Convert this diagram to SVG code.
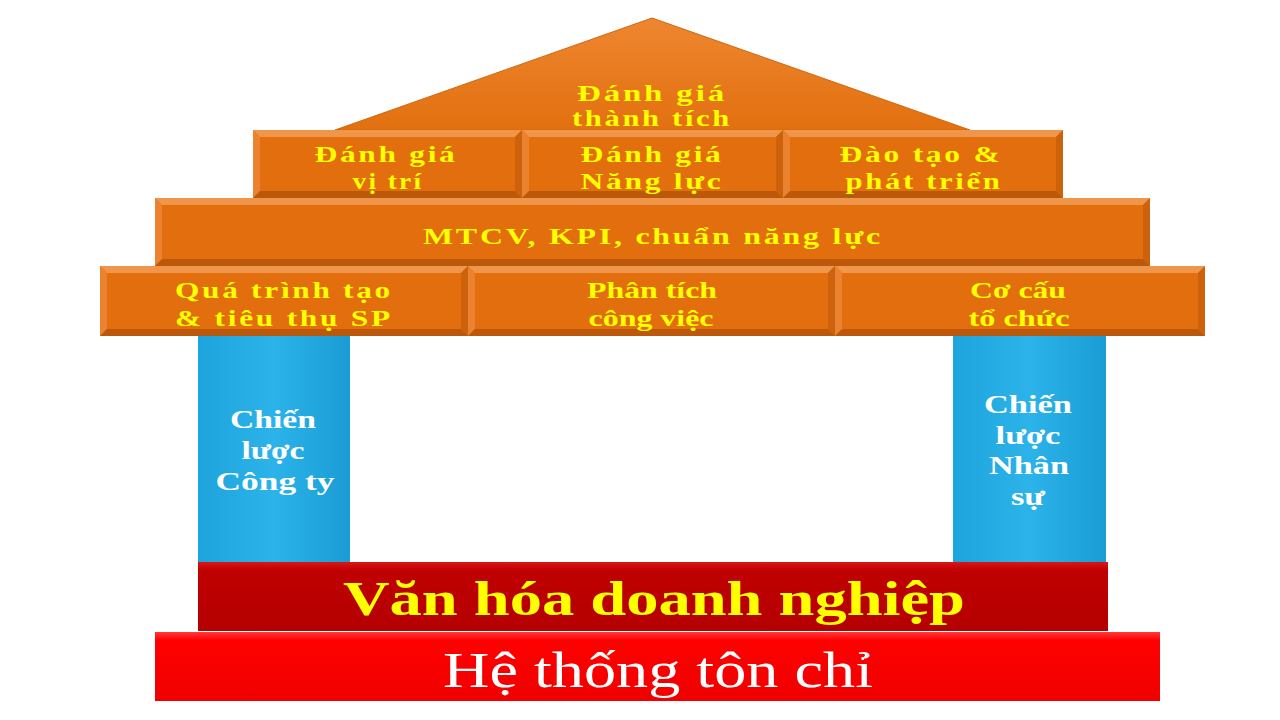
<svg xmlns="http://www.w3.org/2000/svg" width="1280" height="720" viewBox="0 0 1280 720">
<defs>
<linearGradient id="tg" x1="0" y1="0" x2="0" y2="1">
<stop offset="0" stop-color="#EE8630"/><stop offset="1" stop-color="#E2700F"/>
</linearGradient>
<linearGradient id="bg" x1="0" y1="0" x2="1" y2="0">
<stop offset="0" stop-color="#1EA4DC"/><stop offset="0.5" stop-color="#2BB3EA"/><stop offset="1" stop-color="#1A9CD4"/>
</linearGradient>
<linearGradient id="dr" x1="0" y1="0" x2="0" y2="1">
<stop offset="0" stop-color="#D81818"/><stop offset="0.12" stop-color="#C00000"/><stop offset="1" stop-color="#B40000"/>
</linearGradient>
<linearGradient id="rr" x1="0" y1="0" x2="0" y2="1">
<stop offset="0" stop-color="#FF3A3A"/><stop offset="0.12" stop-color="#FF0000"/><stop offset="1" stop-color="#F00000"/>
</linearGradient>
</defs>
<style>
.ob{fill:#E36E0E}
.bt{fill:#F0964A}
.bl{fill:#EA8230}
.br{fill:#CC620C}
.bb{fill:#BC580A}
.yt{font-family:"Liberation Serif",serif;font-weight:bold;font-size:23px;fill:#FFFF00;text-anchor:middle;letter-spacing:2px}
.wt{font-family:"Liberation Serif",serif;font-weight:bold;font-size:25px;fill:#FFFFFF;text-anchor:middle}
.pil{fill:url(#bg)}
</style>
<rect width="1280" height="720" fill="#FFFFFF"/>

<g id="roof">
<polygon points="652,18 970,130 335,130" fill="url(#tg)" stroke="#D0660C" stroke-width="1"/>
<text class="yt" x="652" y="101" textLength="150" lengthAdjust="spacingAndGlyphs">Đánh giá</text>
<text class="yt" x="652" y="126" textLength="160" lengthAdjust="spacingAndGlyphs">thành tích</text>
</g>

<g id="danh-gia-vi-tri">
<rect class="ob" x="253" y="130" width="269" height="68"/>
<polygon class="bt" points="253,130 522,130 515,137 260,137"/>
<polygon class="bl" points="253,130 260,137 260,191 253,198"/>
<polygon class="br" points="522,130 522,198 515,191 515,137"/>
<polygon class="bb" points="253,198 522,198 515,191 260,191"/>
<text class="yt" x="386" y="162" textLength="143" lengthAdjust="spacingAndGlyphs">Đánh giá</text>
<text class="yt" x="388" y="189" textLength="71" lengthAdjust="spacingAndGlyphs">vị trí</text>
</g>
<g id="danh-gia-nang-luc">
<rect class="ob" x="522" y="130" width="261" height="68"/>
<polygon class="bt" points="522,130 783,130 776,137 529,137"/>
<polygon class="bl" points="522,130 529,137 529,191 522,198"/>
<polygon class="br" points="783,130 783,198 776,191 776,137"/>
<polygon class="bb" points="522,198 783,198 776,191 529,191"/>
<text class="yt" x="652" y="162" textLength="143" lengthAdjust="spacingAndGlyphs">Đánh giá</text>
<text class="yt" x="652" y="189" textLength="143" lengthAdjust="spacingAndGlyphs">Năng lực</text>
</g>
<g id="dao-tao">
<rect class="ob" x="783" y="130" width="280" height="68"/>
<polygon class="bt" points="783,130 1063,130 1056,137 790,137"/>
<polygon class="bl" points="783,130 790,137 790,191 783,198"/>
<polygon class="br" points="1063,130 1063,198 1056,191 1056,137"/>
<polygon class="bb" points="783,198 1063,198 1056,191 790,191"/>
<text class="yt" x="921" y="162" textLength="163" lengthAdjust="spacingAndGlyphs">Đào tạo &amp;</text>
<text class="yt" x="924" y="189" textLength="157" lengthAdjust="spacingAndGlyphs">phát triển</text>
</g>

<g id="mtcv">
<rect class="ob" x="155" y="198" width="995" height="68"/>
<polygon class="bt" points="155,198 1150,198 1143,205 162,205"/>
<polygon class="bl" points="155,198 162,205 162,259 155,266"/>
<polygon class="br" points="1150,198 1150,266 1143,259 1143,205"/>
<polygon class="bb" points="155,266 1150,266 1143,259 162,259"/>
<text class="yt" x="653" y="244" textLength="460" lengthAdjust="spacingAndGlyphs">MTCV, KPI, chuẩn năng lực</text>
</g>

<g id="qua-trinh">
<rect class="ob" x="100" y="266" width="368" height="70"/>
<polygon class="bt" points="100,266 468,266 461,273 107,273"/>
<polygon class="bl" points="100,266 107,273 107,329 100,336"/>
<polygon class="br" points="468,266 468,336 461,329 461,273"/>
<polygon class="bb" points="100,336 468,336 461,329 107,329"/>
<text class="yt" x="284" y="298" textLength="218" lengthAdjust="spacingAndGlyphs">Quá trình tạo</text>
<text class="yt" x="284" y="326" textLength="218" lengthAdjust="spacingAndGlyphs">&amp; tiêu thụ SP</text>
</g>
<g id="phan-tich">
<rect class="ob" x="468" y="266" width="367" height="70"/>
<polygon class="bt" points="468,266 835,266 828,273 475,273"/>
<polygon class="bl" points="468,266 475,273 475,329 468,336"/>
<polygon class="br" points="835,266 835,336 828,329 828,273"/>
<polygon class="bb" points="468,336 835,336 828,329 475,329"/>
<text class="yt" x="652" y="298" textLength="130" lengthAdjust="spacingAndGlyphs" style="letter-spacing:0">Phân tích</text>
<text class="yt" x="651" y="326" textLength="125" lengthAdjust="spacingAndGlyphs" style="letter-spacing:0">công việc</text>
</g>
<g id="co-cau">
<rect class="ob" x="835" y="266" width="370" height="70"/>
<polygon class="bt" points="835,266 1205,266 1198,273 842,273"/>
<polygon class="bl" points="835,266 842,273 842,329 835,336"/>
<polygon class="br" points="1205,266 1205,336 1198,329 1198,273"/>
<polygon class="bb" points="835,336 1205,336 1198,329 842,329"/>
<text class="yt" x="1018" y="298" textLength="96" lengthAdjust="spacingAndGlyphs" style="letter-spacing:0">Cơ cấu</text>
<text class="yt" x="1019" y="326" textLength="101" lengthAdjust="spacingAndGlyphs" style="letter-spacing:0">tổ chức</text>
</g>

<g id="chien-luoc-cong-ty">
<rect class="pil" x="198" y="336" width="152" height="226"/>
<text class="wt" x="273" y="428" textLength="86" lengthAdjust="spacingAndGlyphs">Chiến</text>
<text class="wt" x="273" y="459" textLength="63" lengthAdjust="spacingAndGlyphs">lược</text>
<text class="wt" x="275" y="490" textLength="119" lengthAdjust="spacingAndGlyphs">Công ty</text>
</g>
<g id="chien-luoc-nhan-su">
<rect class="pil" x="953" y="336" width="153" height="226"/>
<text class="wt" x="1028" y="413" textLength="88" lengthAdjust="spacingAndGlyphs">Chiến</text>
<text class="wt" x="1028" y="444" textLength="65" lengthAdjust="spacingAndGlyphs">lược</text>
<text class="wt" x="1029" y="474" textLength="80" lengthAdjust="spacingAndGlyphs">Nhân</text>
<text class="wt" x="1028" y="505" textLength="34" lengthAdjust="spacingAndGlyphs">sự</text>
</g>

<g id="van-hoa">
<rect x="198" y="562" width="910" height="69" fill="url(#dr)"/>
<text x="654" y="615" font-family="Liberation Serif, serif" font-weight="bold" font-size="48" fill="#FFFF00" text-anchor="middle" textLength="622" lengthAdjust="spacingAndGlyphs">Văn hóa doanh nghiệp</text>
</g>
<g id="he-thong">
<rect x="155" y="632" width="1005" height="69" fill="url(#rr)"/>
<text x="658" y="687" font-family="Liberation Serif, serif" font-size="50" fill="#FFFFFF" text-anchor="middle" textLength="430" lengthAdjust="spacingAndGlyphs">Hệ thống tôn chỉ</text>
</g>
<g id="connectors"/>
</svg>
